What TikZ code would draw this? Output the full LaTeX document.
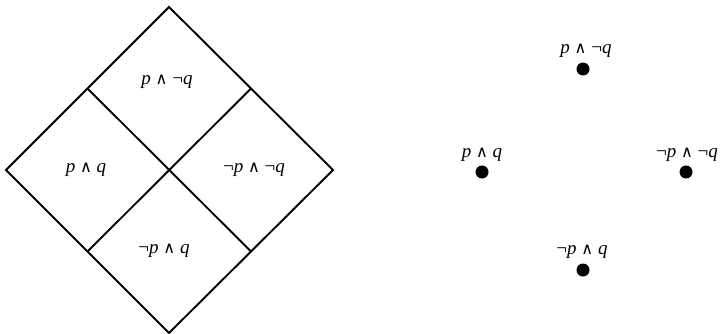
\documentclass[tikz,border=0pt]{standalone}
\usepackage{fontspec}
\setmainfont{Liberation Serif}
\newfontfamily\symf{DejaVu Sans}
\newcommand{\andsym}{{\symf\scalebox{0.85}{∧}}}
\begin{document}
\begin{tikzpicture}[x=1pt,y=-1pt,
  edge/.style={line width=1.9pt, line join=miter},
  lbl/.style={font=\fontsize{19}{21}\selectfont, inner sep=0pt},
  dot/.style={circle, fill=black, minimum size=13pt, inner sep=0pt}]
\useasboundingbox (0,0) rectangle (720,334);
% diamond
\coordinate (T) at (169,7);
\coordinate (L) at (6,170);
\coordinate (R) at (333,170);
\coordinate (B) at (169,333);
\coordinate (TL) at (87.5,88.5);
\coordinate (TR) at (251,88.5);
\coordinate (BL) at (87.5,251.5);
\coordinate (BR) at (251,251.5);
\draw[edge] (T) -- (R) -- (B) -- (L) -- cycle;
\draw[edge] (TL) -- (BR);
\draw[edge] (TR) -- (BL);
\node[lbl] (c1) at (167,82) {\textit{p} \andsym\ ¬\textit{q}};
\node[lbl] (c2) at (86,170) {\textit{p} \andsym\ \textit{q}};
\node[lbl] (c3) at (254,170) {¬\textit{p} \andsym\ ¬\textit{q}};
\node[lbl] (c4) at (164,251) {¬\textit{p} \andsym\ \textit{q}};
% dots
\node[dot] (d1) at (583,69) {};
\node[dot] (d2) at (482,172) {};
\node[dot] (d3) at (686,172) {};
\node[dot] (d4) at (583,270) {};
\node[lbl] (l1) at (586,51) {\textit{p} \andsym\ ¬\textit{q}};
\node[lbl] (l2) at (482,155) {\textit{p} \andsym\ \textit{q}};
\node[lbl] (l3) at (687,155) {¬\textit{p} \andsym\ ¬\textit{q}};
\node[lbl] (l4) at (582,252) {¬\textit{p} \andsym\ \textit{q}};
\end{tikzpicture}
\end{document}
